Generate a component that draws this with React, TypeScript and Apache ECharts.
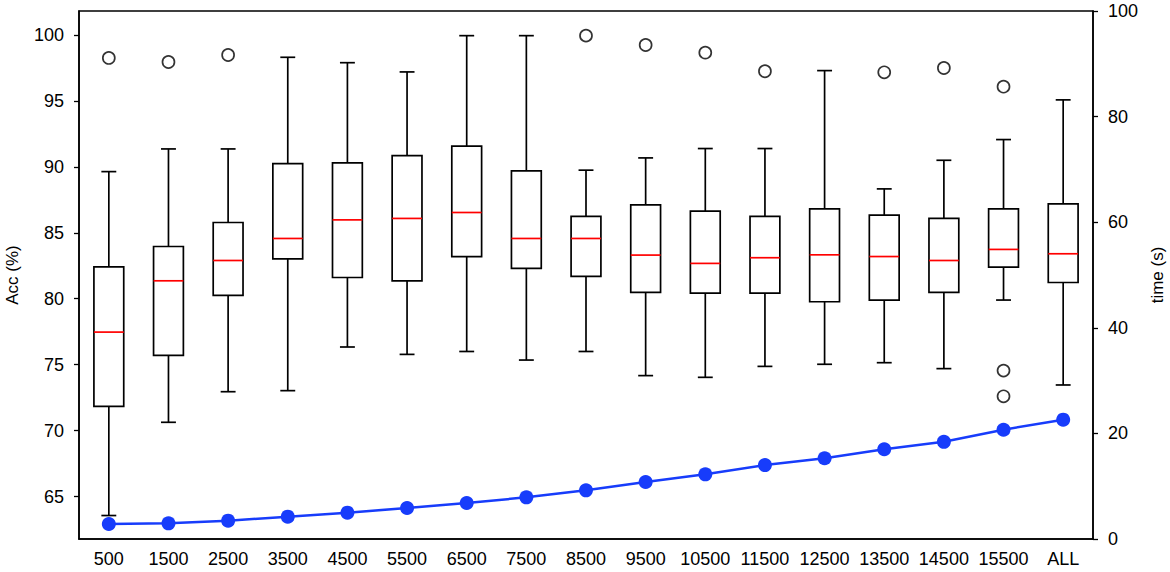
import React, { useEffect, useRef } from "react";
import * as echarts from "echarts";

const categories = ["500", "1500", "2500", "3500", "4500", "5500", "6500", "7500", "8500", "9500", "10500", "11500", "12500", "13500", "14500", "15500", "ALL"];
const whiskerLow = [63.56, 70.63, 72.95, 73.03, 76.34, 75.78, 76.0, 75.35, 76.0, 74.17, 74.04, 74.87, 75.03, 75.15, 74.7, 79.9, 73.46];
const q1 = [71.84, 75.7, 80.25, 83.03, 81.61, 81.36, 83.2, 82.3, 81.69, 80.48, 80.43, 80.43, 79.77, 79.9, 80.48, 82.4, 81.23];
const median = [77.47, 81.36, 82.9, 84.57, 85.98, 86.09, 86.54, 84.57, 84.57, 83.31, 82.68, 83.11, 83.33, 83.2, 82.9, 83.74, 83.41];
const q3 = [82.42, 83.96, 85.78, 90.25, 90.3, 90.86, 91.57, 89.7, 86.24, 87.12, 86.64, 86.24, 86.82, 86.34, 86.09, 86.82, 87.2];
const whiskerHigh = [89.64, 91.36, 91.36, 98.31, 97.9, 97.2, 99.95, 99.95, 89.75, 90.68, 91.39, 91.39, 97.3, 88.33, 90.5, 92.07, 95.08];
const outlierCategory = ["500", "1500", "2500", "8500", "9500", "10500", "11500", "13500", "14500", "15500", "15500", "15500"];
const outlierValue = [98.26, 97.95, 98.48, 99.95, 99.24, 98.66, 97.25, 97.17, 97.5, 96.08, 74.55, 72.6];
const timeValues = [2.84, 2.97, 3.47, 4.23, 4.99, 5.87, 6.82, 7.89, 9.22, 10.8, 12.25, 14.0, 15.3, 17.0, 18.4, 20.7, 22.6];
const accTicks = [65, 70, 75, 80, 85, 90, 95, 100];

const FONT = "'Liberation Sans', Arial, sans-serif";

export default function App() {
  const ref = useRef<HTMLDivElement>(null);
  useEffect(() => {
    document.body.style.margin = "0";
    if (!ref.current) return;
    const chart = echarts.init(ref.current, null, { renderer: "svg" });
    const boxData = categories.map((_, i) => [i, whiskerLow[i], q1[i], median[i], q3[i], whiskerHigh[i]]);
    const outliers = outlierCategory.map((c, i) => [categories.indexOf(c), outlierValue[i]]);
    const axisText = { color: "#000", fontSize: 18, fontFamily: FONT };
    chart.setOption({
      animation: false,
      grid: {
        left: 79, right: 77, top: 11, bottom: 33,
        outerBoundsMode: "none",
        containLabel: false,
        show: true, borderColor: "#000", borderWidth: 1.5, backgroundColor: "transparent",
      },
      xAxis: {
        type: "category",
        data: categories,
        boundaryGap: true,
        axisLine: { lineStyle: { color: "#000", width: 1.5 } },
        axisTick: { alignWithLabel: true, length: 5, lineStyle: { color: "#000", width: 1.3 } },
        axisLabel: { ...axisText, margin: 11, interval: 0 },
        splitLine: { show: false },
      },
      yAxis: [
        {
          type: "value",
          min: 61.78,
          max: 101.82,
          position: "left",
          name: "Acc (%)",
          nameLocation: "middle",
          nameGap: 58,
          nameRotate: 90,
          nameTextStyle: { color: "#000", fontSize: 17, fontFamily: FONT },
          axisLine: { show: true, lineStyle: { color: "#000", width: 1.5 } },
          axisTick: { show: true, length: 5, customValues: accTicks, lineStyle: { color: "#000", width: 1.3 } },
          axisLabel: { ...axisText, margin: 15, customValues: accTicks },
          splitLine: { show: false },
        },
        {
          type: "value",
          min: 0,
          max: 100,
          interval: 20,
          position: "right",
          name: "time (s)",
          nameLocation: "middle",
          nameGap: 51,
          nameRotate: 90,
          nameTextStyle: { color: "#000", fontSize: 17, fontFamily: FONT },
          axisLine: { show: true, lineStyle: { color: "#000", width: 1.5 } },
          axisTick: { show: true, length: 5, lineStyle: { color: "#000", width: 1.3 } },
          axisLabel: { ...axisText, margin: 15 },
          splitLine: { show: false },
        },
      ],
      series: [
        {
          type: "custom",
          name: "Acc",
          xAxisIndex: 0,
          yAxisIndex: 0,
          encode: { x: 0, y: [1, 2, 3, 4, 5] },
          data: boxData,
          renderItem: (params: any, api: any) => {
            const x = api.value(0);
            const low = api.coord([x, api.value(1)]);
            const b1 = api.coord([x, api.value(2)]);
            const med = api.coord([x, api.value(3)]);
            const b3 = api.coord([x, api.value(4)]);
            const high = api.coord([x, api.value(5)]);
            const band = api.size([1, 0])[0];
            const bw = band * 0.5;
            const cw = bw * 0.5;
            const cx = low[0];
            const st = { stroke: "#000", lineWidth: 1.7, fill: "none" };
            return {
              type: "group",
              children: [
                { type: "line", shape: { x1: cx, y1: b3[1], x2: cx, y2: high[1] }, style: st },
                { type: "line", shape: { x1: cx, y1: b1[1], x2: cx, y2: low[1] }, style: st },
                { type: "line", shape: { x1: cx - cw / 2, y1: high[1], x2: cx + cw / 2, y2: high[1] }, style: st },
                { type: "line", shape: { x1: cx - cw / 2, y1: low[1], x2: cx + cw / 2, y2: low[1] }, style: st },
                { type: "rect", shape: { x: cx - bw / 2, y: b3[1], width: bw, height: b1[1] - b3[1] }, style: st },
                { type: "line", shape: { x1: cx - bw / 2, y1: med[1], x2: cx + bw / 2, y2: med[1] }, style: { stroke: "#ff0000", lineWidth: 1.7 } },
              ],
            };
          },
          z: 2,
        },
        {
          type: "scatter",
          name: "outliers",
          xAxisIndex: 0,
          yAxisIndex: 0,
          data: outliers,
          symbol: "circle",
          symbolSize: 12,
          itemStyle: { color: "rgba(255,255,255,0)", borderColor: "#000", borderWidth: 1.7 },
          z: 3,
        },
        {
          type: "line",
          name: "time",
          xAxisIndex: 0,
          yAxisIndex: 1,
          data: timeValues,
          symbol: "circle",
          symbolSize: 14,
          showSymbol: true,
          lineStyle: { color: "#173cfb", width: 2.5 },
          itemStyle: { color: "#173cfb", borderWidth: 0 },
          z: 4,
        },
      ],
    });
    return () => chart.dispose();
  }, []);
  return <div ref={ref} style={{ width: 1170, height: 572 }} />;
}
